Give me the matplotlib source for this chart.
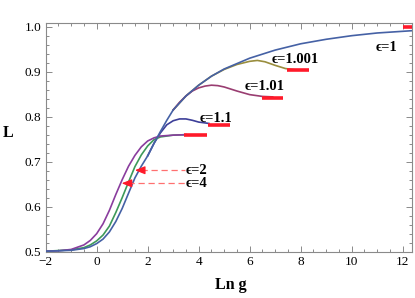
import matplotlib
matplotlib.use('Agg')
import matplotlib.pyplot as plt
from matplotlib.ticker import MultipleLocator, FormatStrFormatter

SERIF = ['Liberation Serif', 'DejaVu Serif']
plt.rcParams['font.family'] = SERIF

# eps = 1 (full curve)
x_e1 = [-2, -1.5, -1, -0.5, -0.25, 0, 0.25, 0.5, 0.75, 1.0, 1.25, 1.5, 1.75, 2.0, 2.25,
        2.5, 2.75, 3.0, 3.5, 4.0, 4.5, 5.0, 5.5, 6.0, 7.0, 8.0, 9.0, 10.0, 11.0, 12.35]
y_e1 = [0.501, 0.502, 0.503, 0.507, 0.511, 0.518, 0.528, 0.544, 0.567, 0.596, 0.630,
        0.664, 0.690, 0.713, 0.741, 0.767, 0.792, 0.815, 0.846, 0.870, 0.890, 0.906,
        0.918, 0.930, 0.948, 0.962, 0.972, 0.980, 0.986, 0.991]

# eps = 1.001 (branch off the eps=1 curve)
x_e1001 = [3.0, 3.5, 4.0, 4.5, 5.0, 5.5, 6.0, 6.3, 6.6, 7.0, 7.4, 7.8]
y_e1001 = [0.815, 0.846, 0.870, 0.890, 0.905, 0.916, 0.923, 0.925, 0.922, 0.914, 0.907, 0.904]

# eps = 1.01
x_e101 = [3.0, 3.25, 3.5, 3.75, 4.0, 4.25, 4.5, 4.75, 5.0, 5.5, 6.0, 6.5, 6.9]
y_e101 = [0.815, 0.832, 0.846, 0.857, 0.864, 0.868, 0.870, 0.869, 0.866, 0.857, 0.849, 0.845, 0.844]

# eps = 1.1
x_e11 = [2.0, 2.25, 2.5, 2.75, 3.0, 3.25, 3.5, 3.75, 4.0, 4.4]
y_e11 = [0.713, 0.741, 0.764, 0.782, 0.791, 0.795, 0.795, 0.792, 0.788, 0.785]

# eps = 2
x_e2 = [-2, -1, -0.5, -0.25, 0, 0.25, 0.5, 0.75, 1.0, 1.25, 1.5, 1.75, 2.0, 2.25, 2.5, 3.0, 3.5]
y_e2 = [0.501, 0.504, 0.509, 0.515, 0.524, 0.537, 0.557, 0.587, 0.620, 0.655, 0.689, 0.715,
        0.735, 0.749, 0.755, 0.759, 0.760]

# eps = 4
x_e4 = [-2, -1.5, -1, -0.5, -0.25, 0, 0.25, 0.5, 0.75, 1.0, 1.25, 1.5, 1.75, 2.0, 2.25,
        2.5, 3.0, 3.5]
y_e4 = [0.501, 0.502, 0.505, 0.515, 0.525, 0.540, 0.562, 0.592, 0.627, 0.660, 0.690, 0.714,
        0.733, 0.746, 0.753, 0.757, 0.759, 0.760]

# red asymptote bars: (x start, x end, L)
bars_x0 = [12.0, 7.45, 6.47, 4.38, 3.42]
bars_x1 = [12.35, 8.34, 7.32, 5.23, 4.31]
bars_y = [0.999, 0.903, 0.842, 0.781, 0.760]

labels = ['ϵ=1', 'ϵ=1.001', 'ϵ=1.01', 'ϵ=1.1']
label_x = [11.38, 7.78, 6.59, 4.69]
label_y = [0.954, 0.928, 0.866, 0.797]

arrow_labels = ['ϵ=2', 'ϵ=4']
arrow_tip_x = [1.50, 0.98]
arrow_y = [0.681, 0.652]
arrow_tail_x = 3.45

C_E1 = '#4561a5'
C_E1001 = '#998d3d'
C_E101 = '#993d71'
C_E11 = '#3d3f99'
C_E2 = '#3d9959'
C_E4 = '#8a3d9e'
RED = '#ff1a2a'
FRAME = '#8a8a8a'

fig = plt.figure(figsize=(4.15, 2.98), dpi=100)
ax = fig.add_axes([0.110, 0.1554, 0.882, 0.7664])

lw = 1.2
ax.plot(x_e1001, y_e1001, color=C_E1001, lw=lw, zorder=3)
ax.plot(x_e101, y_e101, color=C_E101, lw=lw, zorder=3)
ax.plot(x_e11, y_e11, color=C_E11, lw=lw, zorder=3)
ax.plot(x_e2, y_e2, color=C_E2, lw=lw, zorder=3)
ax.plot(x_e4, y_e4, color=C_E4, lw=lw, zorder=3)
ax.plot(x_e1, y_e1, color=C_E1, lw=lw, zorder=4)

for x0, x1, y in zip(bars_x0, bars_x1, bars_y):
    ax.plot([x0, x1], [y, y], color=RED, lw=2.6, solid_capstyle='butt', zorder=5)

for t, x, y in zip(labels, label_x, label_y):
    ax.text(x, y, t, ha='center', va='center', fontsize=10.5, fontweight='bold',
            family=SERIF, zorder=6)

for t, xt, y in zip(arrow_labels, arrow_tip_x, arrow_y):
    ax.plot([xt + 0.25, arrow_tail_x], [y, y], color='#ff7070', lw=0.9,
            linestyle=(0, (5, 3)), zorder=5)
    ax.annotate('', xy=(xt, y), xytext=(xt + 0.34, y),
                arrowprops=dict(arrowstyle='-|>,head_length=0.6,head_width=0.24',
                                color=RED, lw=0.9, shrinkA=0, shrinkB=0), zorder=6)
    ax.text(arrow_tail_x + 0.02, y, t, ha='left', va='center', fontsize=10.5,
            fontweight='bold', family=SERIF, zorder=6)

ax.set_xlim(-2, 12.35)
ax.set_ylim(0.5, 1.0075)
ax.xaxis.set_major_locator(MultipleLocator(2))
ax.xaxis.set_minor_locator(MultipleLocator(0.5))
ax.yaxis.set_major_locator(MultipleLocator(0.1))
ax.yaxis.set_minor_locator(MultipleLocator(0.02))
ax.yaxis.set_major_formatter(FormatStrFormatter('%.1f'))
ax.tick_params(which='both', direction='in', top=True, right=True, color=FRAME,
               labelsize=9.5, width=0.7)
ax.tick_params(which='major', length=4.5, pad=3)
ax.tick_params(which='minor', length=2.5)
for s in ax.spines.values():
    s.set_color(FRAME)
    s.set_linewidth(0.8)

fig.text(0.019, 0.554, 'L', ha='center', va='center', fontsize=11.5, fontweight='bold')
fig.text(0.557, 0.044, 'Ln g', ha='center', va='center', fontsize=11.5, fontweight='bold')

fig.savefig('out.png', dpi=100)
